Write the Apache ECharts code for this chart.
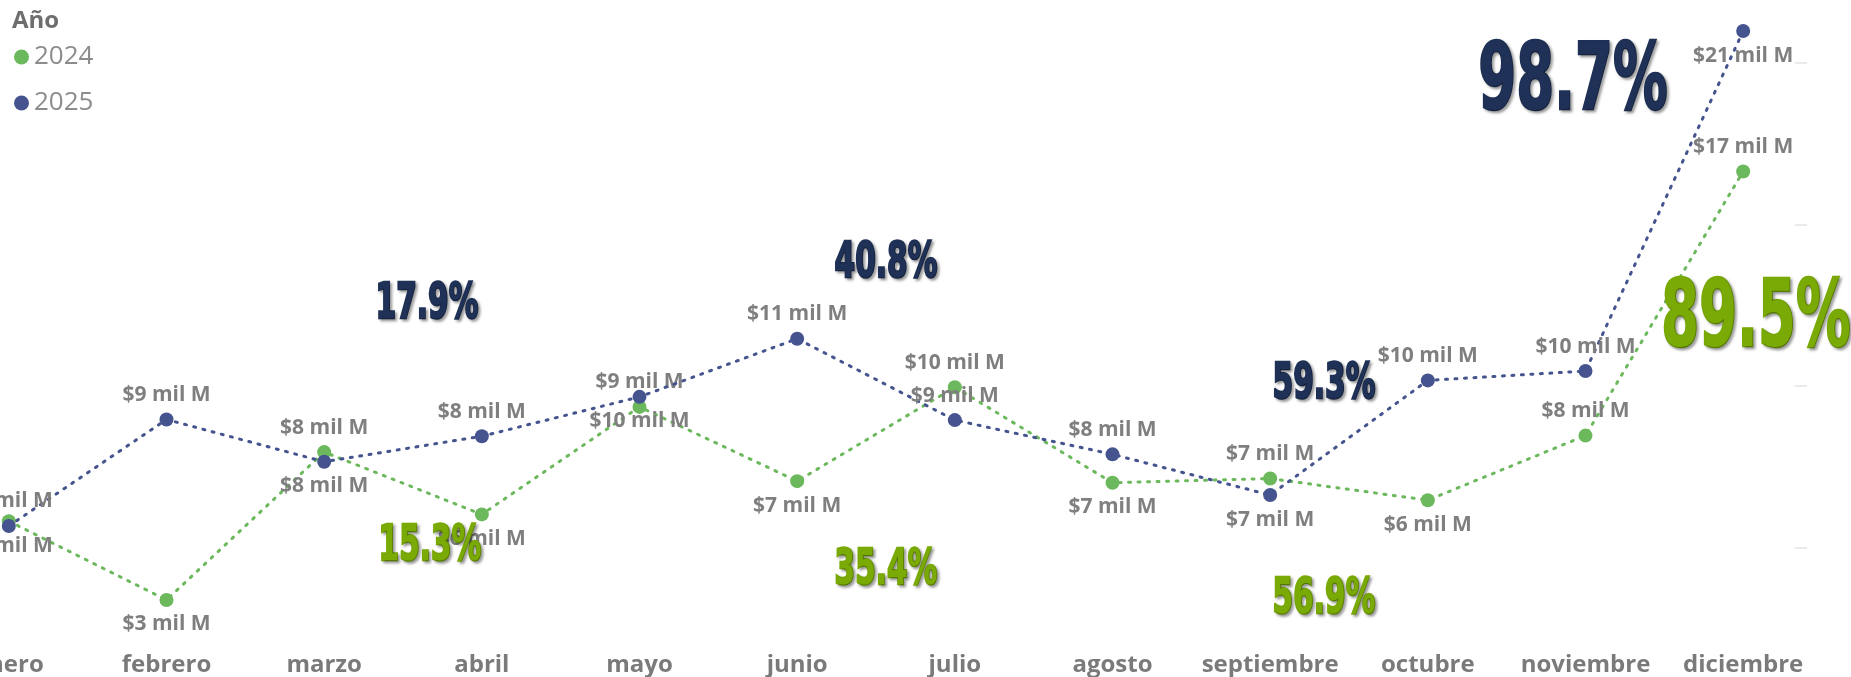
<!DOCTYPE html>
<html>
<head>
<meta charset="utf-8">
<script src="https://cdn.jsdelivr.net/npm/echarts@6/dist/echarts.min.js"></script>
<style>
html,body{margin:0;padding:0;background:#fff;overflow:hidden;width:1851px;height:677px;}
#c{width:1921px;height:677px;margin-left:-70px;}
</style>
</head>
<body>
<div id="c"></div>
<script>
// ---- data ----
var months = ['enero','febrero','marzo','abril','mayo','junio','julio','agosto','septiembre','octubre','noviembre','diciembre'];
var values2024 = [5.80, 3.36, 7.94, 6.01, 9.34, 7.04, 9.95, 6.99, 7.12, 6.45, 8.45, 16.63];
var values2025 = [5.65, 8.95, 7.64, 8.43, 9.65, 11.45, 8.93, 7.87, 6.61, 10.16, 10.45, 20.98];
var yTicks = [5, 10, 15, 20];
var pct2024 = ['15.3%', '35.4%', '56.9%', '89.5%'];
var pct2025 = ['17.9%', '40.8%', '59.3%', '98.7%'];

// ---- styles / layout (kept apart from data) ----
var OFF = 70; // chart canvas is shifted 70px left of the page
var labelPos2024 = ['bottom','bottom','top','bottom','top','bottom','top','bottom','top','bottom','top','top'];
var labelPos2025 = ['top','top','bottom','top','bottom','top','top','top','bottom','top','top','bottom'];
var pctPos2024 = [[430,547,50],[886,571,50],[1324,600,50],[1756,322,92]];
var pctPos2025 = [[427,305,50],[886,264,50],[1324,385,50],[1573,85,92]];
var C24 = '#6cb85c', C25 = '#45548e';
var PCT24 = '#7aaa05', PCT25 = '#1f3156';

function items(vals, pos){
  return vals.map(function(v,i){ return {value: v, label: {position: pos[i]}}; });
}
function pctGraphics(texts, pos, color){
  return texts.map(function(t,i){
    return {
      type:'text', x: pos[i][0] + OFF, y: pos[i][1], scaleX: 0.66, z: 100,
      style:{
        text: t, x:0, y:0, align:'center', verticalAlign:'middle',
        fontFamily:'"DejaVu Sans Condensed","DejaVu Sans",sans-serif',
        fontWeight:'bold', fontSize: pos[i][2], fill: color,
        stroke: color, lineWidth: 2.5,
        textShadowColor:'rgba(0,0,0,0.35)', textShadowBlur:3, textShadowOffsetX:2, textShadowOffsetY:2
      }
    };
  });
}

var chart = echarts.init(document.getElementById('c'));
var labelCommon = {
  show: true, distance: 7,
  formatter: function(p){ return '$' + Math.round(p.value) + ' mil M'; },
  color: '#7f7f7f', fontSize: 21, fontWeight: 'bold', fontFamily: '"Open Sans", sans-serif'
};
chart.setOption({
  animation: false,
  title: {
    text: 'Año', left: 7 + OFF, top: 4,
    textStyle: {color:'#6e6e6e', fontSize: 24, fontWeight:'bold', fontFamily:'"Open Sans", sans-serif'}
  },
  legend: {
    orient: 'vertical', left: 14 + OFF, top: 44, padding: 0, icon: 'circle', itemWidth: 15, itemHeight: 15, itemGap: 20,
    data: ['2024','2025'],
    textStyle: {color:'#8c8c8c', fontSize: 26, fontFamily:'"Open Sans", sans-serif'}
  },
  grid: [
    {left: 0, right: 29, top: 62.7, bottom: 129.3},
    {left: 1795 + OFF, width: 12, top: 62.7, bottom: 129.3}
  ],
  xAxis: [
    {
      type: 'category', data: months, gridIndex: 0,
      axisLine: {show:false}, axisTick: {show:false},
      axisLabel: {margin: 106, color:'#7a7a7a', fontSize: 24, fontWeight:'bold', fontFamily:'"Open Sans", sans-serif', interval: 0}
    },
    {type: 'value', gridIndex: 1, show: false}
  ],
  yAxis: [
    {type:'value', gridIndex:0, min: yTicks[0], max: yTicks[yTicks.length-1], interval: 5, show:false},
    {type:'value', gridIndex:1, min: yTicks[0], max: yTicks[yTicks.length-1], interval: 5,
     axisLine:{show:false}, axisTick:{show:false}, axisLabel:{show:false},
     splitLine:{show:true, lineStyle:{color:'#e3e3e3', width:1.5}}}
  ],
  series: [
    {
      name: '2024', type: 'line', data: items(values2024, labelPos2024), clip: false,
      symbol: 'circle', symbolSize: 14, color: C24,
      lineStyle: {color: C24, width: 3, type: [2, 7.5], cap: 'round'},
      itemStyle: {color: C24},
      label: labelCommon, z: 3
    },
    {
      name: '2025', type: 'line', data: items(values2025, labelPos2025), clip: false,
      symbol: 'circle', symbolSize: 14, color: C25,
      lineStyle: {color: C25, width: 3, type: [2, 7.5], cap: 'round'},
      itemStyle: {color: C25},
      label: labelCommon, z: 4
    }
  ],
  graphic: pctGraphics(pct2025, pctPos2025, PCT25).concat(pctGraphics(pct2024, pctPos2024, PCT24))
});
</script>
</body>
</html>
